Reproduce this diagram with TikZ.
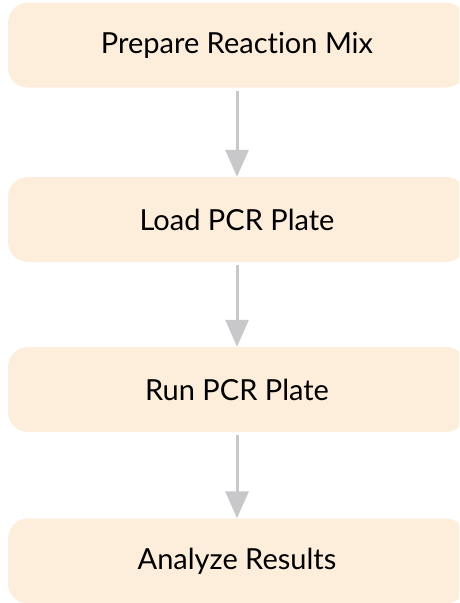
\documentclass[tikz,border=0pt]{standalone}
\usepackage{fontspec}
\setmainfont{Lato}[Ligatures=NoCommon]
\usetikzlibrary{arrows.meta}
\definecolor{boxfill}{HTML}{FDEEDC}
\definecolor{arrowgray}{HTML}{C8C8CA}
\tikzset{
  stepbox/.style={draw=none, fill=boxfill, rounded corners=20pt, minimum width=458pt, minimum height=85pt, font=\fontsize{29}{33}\selectfont, text=black},
  flow/.style={draw=arrowgray, line width=3pt, -{Triangle[width=23pt,length=27pt]}, shorten >=0pt}
}
\begin{document}
\begin{tikzpicture}[x=1pt,y=1pt]
\useasboundingbox (0,0) rectangle (459,-603);
\clip (0,0) rectangle (459,-603);
\node[stepbox] (a) at (237,-45) {Prepare Reaction Mix};
\node[stepbox] (b) at (237,-219.5) {Load PCR Plate};
\node[stepbox] (c) at (237,-389.5) {Run PCR Plate};
\node[stepbox] (d) at (237,-561) {Analyze Results};
\draw[flow] ([yshift=-3pt]a.south) -- (b.north);
\draw[flow] ([yshift=-3pt]b.south) -- (c.north);
\draw[flow] ([yshift=-3pt]c.south) -- (d.north);
\end{tikzpicture}
\end{document}
